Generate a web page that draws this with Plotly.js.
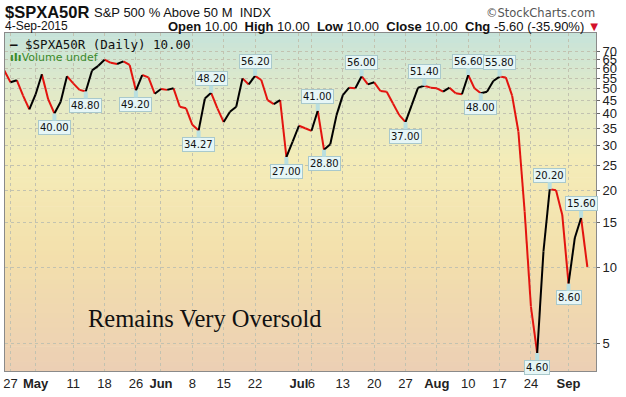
<!DOCTYPE html>
<html>
<head>
<meta charset="utf-8">
<script src="https://cdn.plot.ly/plotly-3.0.1.min.js"></script>
<style>html,body{margin:0;padding:0;background:#fff;}#chart{width:626px;height:397px;}</style>
</head>
<body>
<div id="chart"></div>
<script>
// ---- data (trading days) ----
const dates = ['Apr 24','Apr 27','Apr 28','Apr 29','Apr 30',
 'May 1','May 4','May 5','May 6','May 7','May 8','May 11','May 12','May 13','May 14','May 15','May 18','May 19','May 20','May 21','May 22','May 26','May 27','May 28','May 29',
 'Jun 1','Jun 2','Jun 3','Jun 4','Jun 5','Jun 8','Jun 9','Jun 10','Jun 11','Jun 12','Jun 15','Jun 16','Jun 17','Jun 18','Jun 19','Jun 22','Jun 23','Jun 24','Jun 25','Jun 26','Jun 29','Jun 30',
 'Jul 1','Jul 2','Jul 6','Jul 7','Jul 8','Jul 9','Jul 10','Jul 13','Jul 14','Jul 15','Jul 16','Jul 17','Jul 20','Jul 21','Jul 22','Jul 23','Jul 24','Jul 27','Jul 28','Jul 29','Jul 30','Jul 31',
 'Aug 3','Aug 4','Aug 5','Aug 6','Aug 7','Aug 10','Aug 11','Aug 12','Aug 13','Aug 14','Aug 17','Aug 18','Aug 19','Aug 20','Aug 21','Aug 24','Aug 25','Aug 26','Aug 27','Aug 28','Aug 31',
 'Sep 1','Sep 2','Sep 3','Sep 4'];
const values = [59, 53, 54, 47, 41.5,
 47.5, 57, 45.5, 40.00, 44.5, 56, 52.5, 49.5, 48.80, 59, 61.5, 65, 63.2, 62.5, 64, 62, 49.20, 56.6, 55.4, 47.8,
 49.9, 49.5, 50.2, 42.5, 41.9, 36.1, 34.27, 45.8, 48.20, 41.9, 37.0, 40.6, 42.5, 54.9, 52.0, 56.20, 54.1, 45.1, 43.5, 45.1, 27.00, 31.0,
 35.8, 35.0, 34.2, 41.00, 28.80, 30.3, 39.4, 47.2, 50.5, 50.2, 56.00, 52.0, 53.0, 49.0, 48.7, 43.8, 39.4, 37.00, 43.2, 50.5, 51.40, 50.5,
 50.2, 48.7, 50.5, 48.0, 47.6, 56.60, 50.2, 48.00, 48.7, 53.6, 55.80, 55.4, 47, 34, 16.5, 7.0, 4.60, 11.5, 20.20, 20.0, 16,
 8.60, 13, 15.60, 10.00];

const labelDates = ['May 6','May 13','May 26','Jun 9','Jun 11','Jun 22','Jun 29','Jul 7','Jul 8','Jul 16','Jul 27','Jul 30','Aug 10','Aug 12','Aug 17','Aug 25','Aug 27','Sep 1','Sep 3'];
const labelSide  = ['below','below','below','below','above','above','below','above','below','above','below','above','above','below','above','below','above','below','above'];

const tickDates = ['Apr 27','May 1','May 11','May 18','May 26','Jun 1','Jun 8','Jun 15','Jun 22','Jul 1','Jul 6','Jul 13','Jul 20','Jul 27','Aug 3','Aug 10','Aug 17','Aug 24','Sep 1'];
const tickText  = ['27','<b>May</b>','11','18','26','<b>Jun</b>','8','15','22','<b>Jul</b>','6','13','20','27','<b>Aug</b>','10','17','24','<b>Sep</b>'];
const yTicks = [5,10,15,20,25,30,35,40,45,50,55,60,65,70];

// ---- build traces: up segments black, down segments red ----
const xs = dates.map((d,i)=>i);
const up = {x:[],y:[]}, dn = {x:[],y:[]};
for (let i=0;i<values.length-1;i++){
  const t = values[i+1] >= values[i] ? up : dn;
  t.x.push(xs[i], xs[i+1], null);
  t.y.push(values[i], values[i+1], null);
}
const traces = [
  {x:dn.x,y:dn.y,mode:'lines',line:{color:'#e3140f',width:2},connectgaps:false,hoverinfo:'skip',showlegend:false},
  {x:up.x,y:up.y,mode:'lines',line:{color:'#000000',width:2},connectgaps:false,hoverinfo:'skip',showlegend:false}
];

// ---- gradient background bands ----
const stops = [[0,[236,207,180]],[0.35,[243,224,172]],[0.62,[244,236,184]],[0.82,[226,234,200]],[1,[198,227,218]]];
function col(t){
  for (let k=0;k<stops.length-1;k++){
    const a=stops[k], b=stops[k+1];
    if (t>=a[0] && t<=b[0]){
      const f=(t-a[0])/(b[0]-a[0]);
      const c=a[1].map((v,j)=>Math.round(v+(b[1][j]-v)*f));
      return 'rgb('+c.join(',')+')';
    }
  }
  return 'rgb(198,227,218)';
}
const shapes=[];
const N=70;
for (let k=0;k<N;k++){
  shapes.push({type:'rect',xref:'paper',yref:'paper',x0:0,x1:1,y0:k/N,y1:(k+1)/N+0.002,
    fillcolor:col((k+0.5)/N),line:{width:0},layer:'below'});
}

// ---- value labels with pointer stems ----
const ann=[];
labelDates.forEach((d,k)=>{
  const i=dates.indexOf(d);
  ann.push({x:xs[i],y:Math.log10(values[i]),xref:'x',yref:'y',text:values[i].toFixed(2),
    showarrow:true,arrowhead:0,arrowwidth:4,arrowcolor:'#b9dfe0',standoff:0,
    ax:0,ay:labelSide[k]==='above'?-14:14,
    font:{family:'DejaVu Sans',size:10,color:'#111'},
    bgcolor:'#e6f6f6',bordercolor:'#a9c9cc',borderwidth:1,borderpad:1});
});
function px(p){return (p-5)/591;}
function py(p){return (371-p)/338;}
const hdr=[
 {x:px(3),y:py(12),text:'<b>$SPXA50R</b>',font:{family:'Liberation Sans',size:16.5,color:'#111'},xanchor:'left'},
 {x:px(92),y:py(13),text:'S&P 500 % Above 50 M  INDX',font:{family:'Liberation Sans',size:13,color:'#111'},xanchor:'left'},
 {x:px(597),y:py(13),text:'©StockCharts.com',font:{family:'DejaVu Sans',size:11.5,color:'#555'},xanchor:'right'},
 {x:px(3),y:py(26),text:'4-Sep-2015',font:{family:'Liberation Sans',size:12,color:'#111'},xanchor:'left'},
 {x:px(166),y:py(26),text:'<b>Open</b> 10.00  <b>High</b> 10.00  <b>Low</b> 10.00  <b>Close</b> 10.00  <b>Chg</b> -5.60 (-35.90%) <span style="color:#d4102a">▼</span>',font:{family:'Liberation Sans',size:13,color:'#111'},xanchor:'left'},
 {x:px(8),y:py(45),text:'<b>—</b> $SPXA50R (Daily) 10.00',font:{family:'DejaVu Sans Mono',size:12.5,color:'#111'},xanchor:'left'},
 {x:px(8),y:py(57),text:'<b>ıIı</b>Volume undef',font:{family:'DejaVu Sans',size:11,color:'#3a8a2a'},xanchor:'left'},
 {x:px(86),y:py(318),text:'Remains Very Oversold',font:{family:'Liberation Serif',size:24.5,color:'#111'},xanchor:'left'}
];
hdr.forEach(a=>{a.xref='paper';a.yref='paper';a.showarrow=false;a.yanchor='middle';ann.push(a);});

const layout={
  width:626,height:397,
  margin:{l:5,r:30,t:33,b:26},
  paper_bgcolor:'#ffffff',plot_bgcolor:'rgba(0,0,0,0)',
  showlegend:false,
  xaxis:{range:[0.12,94.38],tickmode:'array',tickvals:tickDates.map(d=>dates.indexOf(d)),ticktext:tickText,
    tickangle:0,showgrid:true,gridcolor:'#c2c2b0',griddash:'dot',gridwidth:1,zeroline:false,
    showline:true,mirror:true,linecolor:'#8a8a8a',linewidth:1,ticks:'',
    tickfont:{family:'Liberation Sans',size:13,color:'#222'}},
  yaxis:{type:'log',range:[0.5922,1.9176],side:'right',tickmode:'array',tickvals:yTicks,ticktext:yTicks.map(String),
    showgrid:true,gridcolor:'#c2c2b0',griddash:'dot',gridwidth:1,zeroline:false,
    showline:true,mirror:true,linecolor:'#8a8a8a',linewidth:1,ticks:'outside',ticklen:3,tickcolor:'#666',
    tickfont:{family:'Liberation Sans',size:13,color:'#222'}},
  shapes:shapes,
  annotations:ann
};
Plotly.newPlot('chart',traces,layout,{staticPlot:true,displayModeBar:false});
</script>
</body>
</html>
